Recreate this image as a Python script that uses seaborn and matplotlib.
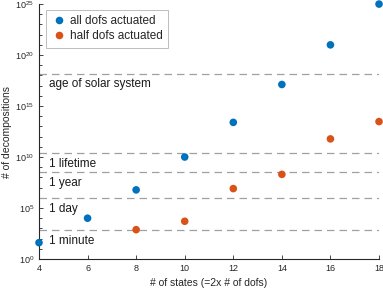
import matplotlib
matplotlib.use('Agg')
import matplotlib.pyplot as plt
import matplotlib.ticker as mticker
import seaborn as sns
import pandas as pd
import numpy as np

# values
states = [4, 6, 8, 10, 12, 14, 16, 18]
all_dofs = [40, 1e4, 6e6, 1e10, 2.5e13, 1.3e17, 1e21, 1e25]
half_states = [8, 10, 12, 14, 16, 18]
half_dofs = [7.5e2, 5e3, 8e6, 2e8, 6e11, 3e13]

ref_labels = ['1 minute', '1 day', '1 year', '1 lifetime', 'age of solar system']
ref_values = [6.5e2, 9e5, 3.2e8, 2.3e10, 1.4e18]

df = pd.DataFrame({
    'states': states + half_states,
    'decomps': all_dofs + half_dofs,
    'group': ['all dofs actuated'] * len(states) + ['half dofs actuated'] * len(half_states),
})

sns.set_style('ticks')
plt.rcParams['font.family'] = ['Liberation Sans', 'DejaVu Sans']
plt.rcParams['mathtext.fontset'] = 'dejavusans'

fig = plt.figure(figsize=(3.83, 2.91), dpi=100)
ax = fig.add_axes([0.1018, 0.110, 0.8878, 0.876])

for v in ref_values:
    ax.axhline(v, color='#a0a0a0', lw=0.9, ls=(0, (6, 4)), zorder=1)
for lab, v in zip(ref_labels, ref_values):
    ax.annotate(lab, xy=(4, v), xytext=(7, -7.5), textcoords='offset points',
                ha='left', va='center', fontsize=8.5, color='#1a1a1a')

sns.scatterplot(data=df, x='states', y='decomps', hue='group',
                palette=['#0072BD', '#D95319'], s=30, linewidth=0,
                ax=ax, clip_on=False, zorder=3)

ax.set_yscale('log')
ax.set_xlim(4, 18)
ax.set_ylim(1, 1e25)
ax.set_xticks(np.arange(4, 19, 2))
ax.yaxis.set_major_locator(mticker.FixedLocator([1e0, 1e5, 1e10, 1e15, 1e20, 1e25]))
ax.yaxis.set_minor_locator(mticker.FixedLocator([10.0 ** k for k in range(26)]))
ax.yaxis.set_minor_formatter(mticker.NullFormatter())
ax.tick_params(direction='in', labelsize=6.5, colors='#262626', length=3, width=0.6)
ax.tick_params(which='minor', direction='in', length=2, width=0.6)
sns.despine(ax=ax)
for sp in ['left', 'bottom']:
    ax.spines[sp].set_color('#262626')
    ax.spines[sp].set_linewidth(0.8)

ax.set_xlabel('# of states (=2x # of dofs)', fontsize=7.5, color='#262626', labelpad=4)
ax.set_ylabel('# of decompositions', fontsize=7.5, color='#262626', labelpad=2)

leg = ax.legend(loc='upper left', bbox_to_anchor=(0.02, 0.977), fontsize=8.5,
                frameon=True, fancybox=False, edgecolor='#a0a0a0',
                handletextpad=0.3, borderpad=0.45, labelspacing=0.25,
                markerscale=1.0, handlelength=1.3, borderaxespad=0)
leg.get_frame().set_linewidth(0.6)

fig.savefig('out.png', dpi=100)
